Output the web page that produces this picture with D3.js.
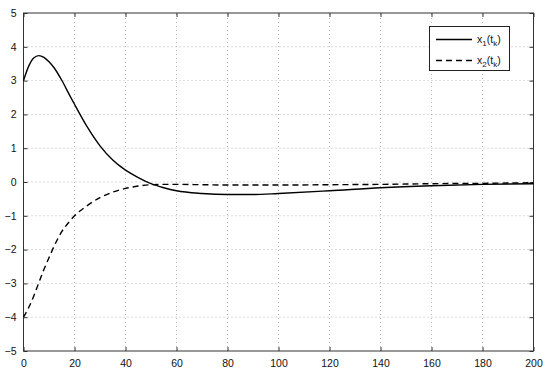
<!DOCTYPE html>
<html>
<head>
<meta charset="utf-8">
<script src="https://cdn.jsdelivr.net/npm/d3@7"></script>
<style>
  body { margin: 0; background: #fff; }
  text { font-family: "Liberation Sans", Arial, sans-serif; }
</style>
</head>
<body>
<div id="plot"></div>
<script>
// sample times and the two state trajectories
const t = [0, 2, 4, 6, 8, 10, 12, 15, 18, 20, 25, 30, 35, 40, 45, 50, 55, 60, 70, 80, 90, 100, 120, 140, 160, 180, 200];
const x1 = [3.00, 3.42, 3.67, 3.74, 3.69, 3.56, 3.38, 3.01, 2.58, 2.30, 1.63, 1.07, 0.65, 0.35, 0.13, -0.05, -0.17, -0.26, -0.34, -0.37, -0.37, -0.34, -0.26, -0.17, -0.11, -0.07, -0.05];
const x2 = [-4.00, -3.72, -3.38, -2.98, -2.59, -2.24, -1.90, -1.47, -1.17, -1.00, -0.70, -0.46, -0.30, -0.19, -0.12, -0.08, -0.07, -0.07, -0.08, -0.09, -0.09, -0.09, -0.08, -0.07, -0.05, -0.04, -0.02];

const xTicks = [0, 20, 40, 60, 80, 100, 120, 140, 160, 180, 200];
const yTicks = [-5, -4, -3, -2, -1, 0, 1, 2, 3, 4, 5];
const legendLabels = [["x", "1", "(t", "k", ")"], ["x", "2", "(t", "k", ")"]];

const W = 550, H = 376;
const m = {left: 23.5, right: 16.5, top: 13, bottom: 25};

const svg = d3.select("#plot").append("svg")
    .attr("width", W)
    .attr("height", H);

const x = d3.scaleLinear().domain([0, 200]).range([m.left, W - m.right]);
const y = d3.scaleLinear().domain([-5, 5]).range([H - m.bottom, m.top]);

// dotted grid
const grid = svg.append("g")
    .attr("stroke", "#b8b8b8")
    .attr("stroke-width", 1)
    .attr("stroke-dasharray", "1,3");
grid.selectAll(".gx")
  .data(xTicks.slice(1, -1))
  .enter()
  .append("line")
    .attr("x1", d => x(d)).attr("x2", d => x(d))
    .attr("y1", y(-5)).attr("y2", y(5));
grid.selectAll(".gy")
  .data(yTicks.slice(1, -1))
  .enter()
  .append("line")
    .attr("y1", d => y(d)).attr("y2", d => y(d))
    .attr("x1", x(0)).attr("x2", x(200));

// axes with inward ticks on all 4 sides (matlab box)
const fmt = d => d < 0 ? "\u2212" + Math.abs(d) : String(d);
function styleAxis(g) {
  g.select(".domain").remove();
  g.selectAll(".tick line").attr("stroke", "#333");
  g.selectAll(".tick text").attr("fill", "#111").style("font-size", "10.5px");
}
svg.append("g")
    .attr("transform", `translate(0,${y(-5)})`)
    .call(d3.axisBottom(x).tickValues(xTicks).tickFormat(fmt).tickSizeInner(-4).tickPadding(9))
    .call(styleAxis);
svg.append("g")
    .attr("transform", `translate(0,${y(5)})`)
    .call(d3.axisTop(x).tickValues(xTicks).tickFormat("").tickSizeInner(-4))
    .call(styleAxis);
svg.append("g")
    .attr("transform", `translate(${x(0)},0)`)
    .call(d3.axisLeft(y).tickValues(yTicks).tickFormat(fmt).tickSizeInner(-4).tickPadding(7))
    .call(styleAxis);
svg.append("g")
    .attr("transform", `translate(${x(200)},0)`)
    .call(d3.axisRight(y).tickValues(yTicks).tickFormat("").tickSizeInner(-4))
    .call(styleAxis);

svg.append("rect")
    .attr("x", x(0)).attr("y", y(5))
    .attr("width", x(200) - x(0)).attr("height", y(-5) - y(5))
    .attr("fill", "none")
    .attr("stroke", "#333")
    .attr("stroke-width", 1);

// curves
const line = d3.line()
    .x((d, i) => x(t[i]))
    .y(d => y(d))
    .curve(d3.curveMonotoneX);

svg.append("path")
    .attr("d", line(x1))
    .attr("fill", "none")
    .attr("stroke", "#000")
    .attr("stroke-width", 1.4);

svg.append("path")
    .attr("d", line(x2))
    .attr("fill", "none")
    .attr("stroke", "#000")
    .attr("stroke-width", 1.4)
    .attr("stroke-dasharray", "6,4");

// legend
const lg = svg.append("g");
lg.append("rect")
    .attr("x", 429.5).attr("y", 26.5)
    .attr("width", 80).attr("height", 44)
    .attr("fill", "#fff")
    .attr("stroke", "#222");

const dashes = [null, "6,4"];
legendLabels.forEach((lab, i) => {
  const yy = 39.5 + i * 21;
  lg.append("line")
      .attr("x1", 436).attr("x2", 472)
      .attr("y1", yy).attr("y2", yy)
      .attr("stroke", "#000")
      .attr("stroke-width", 1.4)
      .attr("stroke-dasharray", dashes[i]);
  const tx = lg.append("text")
      .attr("x", 477).attr("y", yy + 3.5)
      .style("font-size", "10.5px")
      .attr("fill", "#111");
  tx.append("tspan").text(lab[0]);
  tx.append("tspan").attr("dy", 3).style("font-size", "8px").text(lab[1]);
  tx.append("tspan").attr("dy", -3).text(lab[2]);
  tx.append("tspan").attr("dy", 3).style("font-size", "8px").text(lab[3]);
  tx.append("tspan").attr("dy", -3).text(lab[4]);
});
</script>
</body>
</html>
